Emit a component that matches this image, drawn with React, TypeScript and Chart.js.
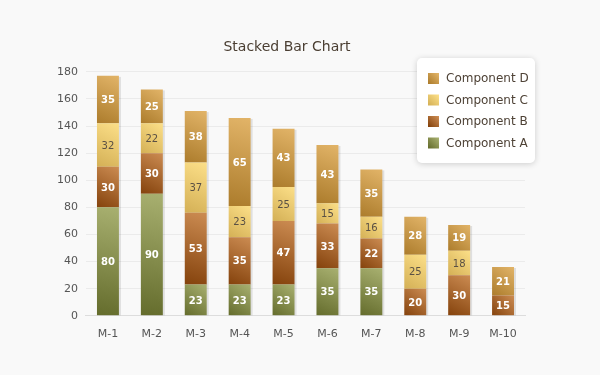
import React, { useEffect, useRef } from "react";
import { Chart, registerables } from "chart.js";

Chart.register(...registerables);

const categories = ["M-1", "M-2", "M-3", "M-4", "M-5", "M-6", "M-7", "M-8", "M-9", "M-10"];
const componentA = [80, 90, 23, 23, 23, 35, 35, 0, 0, 0];
const componentB = [30, 30, 53, 35, 47, 33, 22, 20, 30, 15];
const componentC = [32, 22, 37, 23, 25, 15, 16, 25, 18, 0];
const componentD = [35, 25, 38, 65, 43, 43, 35, 28, 19, 21];
const yTicks = [0, 20, 40, 60, 80, 100, 120, 140, 160, 180];

const FONT = "'DejaVu Sans', Verdana, sans-serif";

const palettes: Record<string, [string, string]> = {
  "Component A": ["#646c2c", "#a8b070"],
  "Component B": ["#84420c", "#cc8c52"],
  "Component C": ["#d4b056", "#fcdf88"],
  "Component D": ["#ac7c2c", "#e2b468"],
};

function gradFor(ctx: any, name: string) {
  const chart = ctx.chart;
  const [dark, light] = palettes[name];
  const xs = chart.scales && chart.scales.x;
  const ys = chart.scales && chart.scales.y;
  if (!xs || !ys || ctx.dataIndex === undefined) return light;
  const i = ctx.dataIndex;
  const dsIdx = ctx.datasetIndex;
  let base = 0;
  for (let k = 0; k < dsIdx; k++) base += (chart.data.datasets[k].data[i] as number) || 0;
  const v = (chart.data.datasets[dsIdx].data[i] as number) || 0;
  const cx = xs.getPixelForValue(i);
  const w = (xs.width / categories.length) * 0.5;
  const top = ys.getPixelForValue(base + v);
  const bottom = ys.getPixelForValue(base);
  if (!isFinite(cx) || !isFinite(top) || !isFinite(bottom)) return light;
  const g = chart.ctx.createLinearGradient(cx - w / 2, bottom, cx + w / 2, top);
  g.addColorStop(0, dark);
  g.addColorStop(1, light);
  return g;
}

const shadowPlugin = {
  id: "barShadow",
  beforeDatasetsDraw(chart: any) {
    const ctx = chart.ctx;
    ctx.save();
    ctx.fillStyle = "rgba(0,0,0,0.10)";
    const metas = chart.getSortedVisibleDatasetMetas();
    const n = categories.length;
    for (let i = 0; i < n; i++) {
      let top = Infinity;
      let bottom = -Infinity;
      let x = 0;
      let w = 0;
      metas.forEach((m: any) => {
        const el = m.data[i];
        const v = chart.data.datasets[m.index].data[i];
        if (!v) return;
        top = Math.min(top, el.y);
        bottom = Math.max(bottom, el.base);
        x = el.x;
        w = el.width;
      });
      if (isFinite(top)) {
        ctx.fillRect(x - w / 2 + 2, top + 1, w, bottom - top - 1);
      }
    }
    ctx.restore();
  },
};

const labelPlugin = {
  id: "barLabels",
  afterDatasetsDraw(chart: any) {
    const ctx = chart.ctx;
    ctx.save();
    ctx.textAlign = "center";
    ctx.textBaseline = "middle";
    chart.getSortedVisibleDatasetMetas().forEach((m: any) => {
      const ds = chart.data.datasets[m.index];
      const isC = ds.label === "Component C";
      m.data.forEach((el: any, i: number) => {
        const v = ds.data[i];
        if (!v) return;
        const cy = (el.y + el.base) / 2;
        if (isC) {
          ctx.font = `10px ${FONT}`;
          ctx.fillStyle = "#5a5044";
        } else {
          ctx.font = `bold 10px ${FONT}`;
          ctx.fillStyle = "#ffffff";
        }
        ctx.fillText(String(v), el.x, cy + 1);
      });
    });
    ctx.restore();
  },
};

const legendPlugin = {
  id: "customLegend",
  afterDraw(chart: any) {
    const ctx = chart.ctx;
    const bx = 417, by = 58, bw = 118, bh = 105, r = 5;
    ctx.save();
    ctx.shadowColor = "rgba(0,0,0,0.18)";
    ctx.shadowBlur = 6;
    ctx.shadowOffsetY = 1;
    ctx.fillStyle = "#ffffff";
    ctx.beginPath();
    ctx.moveTo(bx + r, by);
    ctx.arcTo(bx + bw, by, bx + bw, by + bh, r);
    ctx.arcTo(bx + bw, by + bh, bx, by + bh, r);
    ctx.arcTo(bx, by + bh, bx, by, r);
    ctx.arcTo(bx, by, bx + bw, by, r);
    ctx.closePath();
    ctx.fill();
    ctx.restore();

    ctx.save();
    const items = ["Component D", "Component C", "Component B", "Component A"];
    items.forEach((name, k) => {
      const y = by + 20 + k * 21.5;
      const [dark, light] = palettes[name];
      const g = ctx.createLinearGradient(428, y + 5, 438, y - 5);
      g.addColorStop(0, dark);
      g.addColorStop(1, light);
      ctx.fillStyle = g;
      ctx.fillRect(428, y - 5, 11, 11);
      ctx.font = `12px ${FONT}`;
      ctx.fillStyle = "#4e4236";
      ctx.textAlign = "left";
      ctx.textBaseline = "middle";
      ctx.fillText(name, 446, y + 1);
    });
    ctx.restore();
  },
};

export default function App() {
  const ref = useRef<HTMLCanvasElement>(null);
  useEffect(() => {
    const mk = (label: string, data: number[]) => ({
      label,
      data,
      backgroundColor: (ctx: any) => gradFor(ctx, label),
      borderWidth: 0,
      barPercentage: 0.5,
      categoryPercentage: 1.0,
    });
    const chart = new Chart(ref.current as HTMLCanvasElement, {
      type: "bar",
      data: {
        labels: categories,
        datasets: [
          mk("Component A", componentA),
          mk("Component B", componentB),
          mk("Component C", componentC),
          mk("Component D", componentD),
        ],
      },
      options: {
        animation: false,
        responsive: false,
        maintainAspectRatio: false,
        layout: { padding: { left: 49, right: 75, top: 31, bottom: 30 } },
        plugins: {
          legend: { display: false },
          tooltip: { enabled: false },
          title: {
            display: true,
            text: "Stacked Bar Chart",
            color: "#4a3e32",
            font: { family: FONT, size: 14, weight: "normal" },
            padding: { top: 8, bottom: 16 },
          },
        },
        scales: {
          x: {
            stacked: true,
            grid: { display: false },
            border: { display: true, color: "#dddddd" },
            ticks: { color: "#555555", font: { family: FONT, size: 11 }, padding: 4 },
          },
          y: {
            stacked: true,
            min: 0,
            max: 180,
            afterBuildTicks: (axis: any) => {
              axis.ticks = yTicks.map((v) => ({ value: v }));
            },
            grid: { color: "#ebebeb", drawTicks: false },
            border: { display: false },
            ticks: { color: "#555555", font: { family: FONT, size: 11 }, padding: 8 },
          },
        },
      },
      plugins: [shadowPlugin, labelPlugin, legendPlugin],
    });
    return () => chart.destroy();
  }, []);
  return (
    <div style={{ position: "absolute", left: 0, top: 0, width: 600, height: 375, background: "#f9f9f9" }}>
      <canvas ref={ref} width={600} height={375} style={{ width: 600, height: 375 }} />
    </div>
  );
}
